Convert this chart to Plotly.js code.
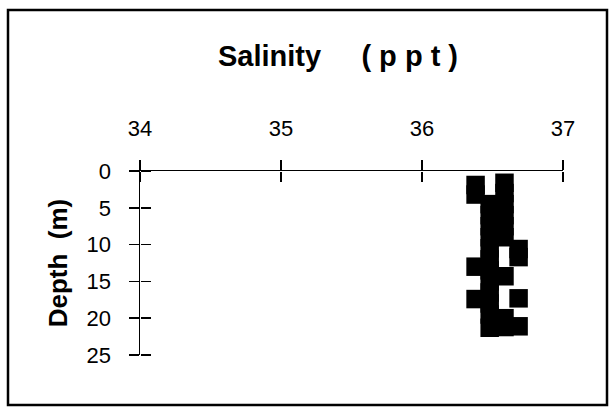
<!DOCTYPE html>
<html>
<head>
<meta charset="utf-8">
<script src="https://cdn.plot.ly/plotly-3.0.1.min.js"></script>
<style>
  html, body { margin: 0; padding: 0; background: #fff; }
  #chart { width: 610px; height: 407px; }
</style>
</head>
<body>
<div id="chart"></div>
<script>
// Depth (m) and salinity (ppt) readings read from the profile
const depthM = [1.6, 3.0, 4.5, 6.0, 7.5, 9.0, 14.3, 20.0, 21.2,
                4.5, 6.0, 7.5, 9.0, 10.5, 12.0, 13.5, 15.0, 16.5, 18.0, 19.5, 21.3,
                1.9, 3.2, 13.0, 17.4,
                10.6, 11.7, 17.3, 21.1];
const salinityPpt = [36.585, 36.585, 36.585, 36.585, 36.585, 36.585, 36.585, 36.585, 36.585,
                     36.48, 36.48, 36.48, 36.48, 36.48, 36.48, 36.48, 36.48, 36.48, 36.48, 36.48, 36.48,
                     36.38, 36.38, 36.38, 36.38,
                     36.685, 36.685, 36.685, 36.685];
const xTicks = [34, 35, 36, 37];
const yTicks = [0, 5, 10, 15, 20, 25];
const titleText = "Salinity";
const unitText = "( p p t )";
const yTitleText = "Depth  (m)";

const fam = "Liberation Sans, Arial, sans-serif";
const tickFont = {family: fam, size: 22, color: "#000"};

const traces = [
  {
    x: salinityPpt, y: depthM, type: "scatter", mode: "markers",
    marker: {symbol: "square", size: 18.5, color: "#000", line: {width: 0}},
    xaxis: "x", yaxis: "y", showlegend: false
  },
  {
    x: salinityPpt, y: depthM, type: "scatter", mode: "markers",
    marker: {symbol: "square", size: 18.5, color: "rgba(0,0,0,0)"},
    xaxis: "x2", yaxis: "y2", hoverinfo: "skip", showlegend: false
  }
];

const layout = {
  width: 610, height: 407,
  margin: {l: 140, r: 47, t: 171, b: 52, pad: 0},
  paper_bgcolor: "#fff", plot_bgcolor: "#fff",
  showlegend: false,
  title: {
    text: "<b>" + titleText + "&nbsp;&nbsp;&nbsp;&nbsp;&nbsp;" + unitText + "</b>",
    font: {family: fam, size: 29, color: "#000"},
    x: 338 / 610, xanchor: "center", xref: "container",
    y: 1 - 56 / 407, yanchor: "middle", yref: "container"
  },
  // main axes: line, labels and the outer half of each tick
  xaxis: {
    range: [34, 37], side: "top", tickmode: "array", tickvals: xTicks,
    ticktext: xTicks.map(String),
    ticks: "outside", ticklen: 10, tickwidth: 1.5, tickcolor: "#000",
    showline: true, linecolor: "#000", linewidth: 1.5,
    showgrid: false, zeroline: false, tickfont: tickFont,
    ticklabelstandoff: 15, fixedrange: true
  },
  yaxis: {
    range: [25, 0], tickmode: "array", tickvals: yTicks, ticktext: yTicks.map(String),
    ticks: "outside", ticklen: 10, tickwidth: 1.5, tickcolor: "#000",
    showline: true, linecolor: "#000", linewidth: 1.5,
    showgrid: false, zeroline: false, tickfont: tickFont,
    ticklabelstandoff: 13, fixedrange: true,
    title: {
      text: "<b>" + yTitleText + "</b>",
      font: {family: fam, size: 26, color: "#000"},
      standoff: 11
    }
  },
  // overlay axes: the inner half of each tick so the ticks cross the axis lines
  xaxis2: {
    range: [34, 37], overlaying: "x", side: "bottom", anchor: "free", position: 1,
    tickmode: "array", tickvals: xTicks, showticklabels: false,
    ticks: "outside", ticklen: 10, tickwidth: 1.5, tickcolor: "#000",
    showline: false, showgrid: false, zeroline: false, fixedrange: true
  },
  yaxis2: {
    range: [25, 0], overlaying: "y", side: "right", anchor: "free", position: 0,
    tickmode: "array", tickvals: yTicks, showticklabels: false,
    ticks: "outside", ticklen: 10, tickwidth: 1.5, tickcolor: "#000",
    showline: false, showgrid: false, zeroline: false, fixedrange: true
  },
  shapes: [{
    type: "rect", xref: "paper", yref: "paper",
    x0: (8 - 140) / 423, x1: (607 - 140) / 423,
    y0: (355 - 405) / 184, y1: (355 - 10) / 184,
    line: {color: "#000", width: 2.5}, fillcolor: "rgba(0,0,0,0)", layer: "below"
  }]
};

Plotly.newPlot("chart", traces, layout, {displayModeBar: false, staticPlot: true});
</script>
</body>
</html>
